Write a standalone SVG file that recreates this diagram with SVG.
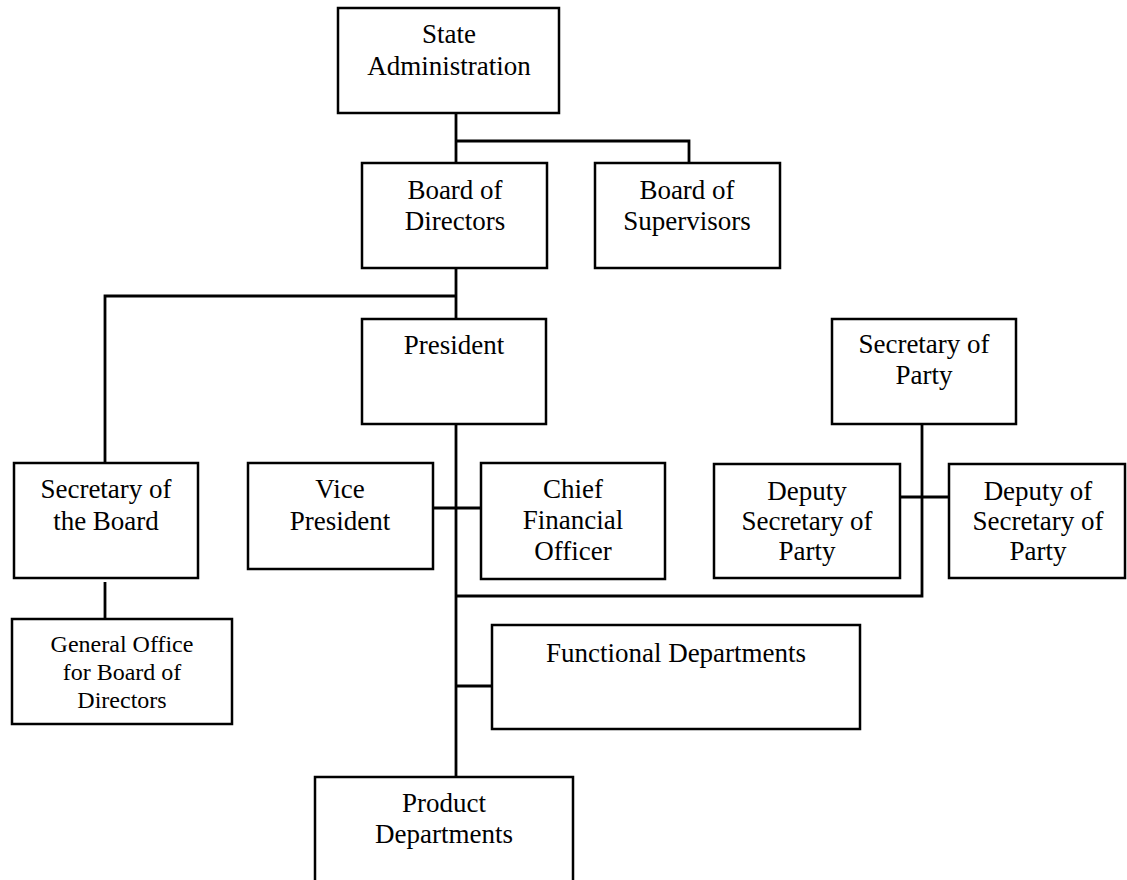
<svg xmlns="http://www.w3.org/2000/svg" width="1127" height="880" viewBox="0 0 1127 880">
  <style>
    .box { fill: #ffffff; stroke: #000000; stroke-width: 2.5; }
    .wire { fill: none; stroke: #000000; stroke-width: 2.8; stroke-linejoin: miter; }
    text { font-family: "Liberation Serif", "Times New Roman", serif; font-size: 27px; fill: #000000; text-anchor: middle; }
    .small { font-size: 24px; }
  </style>
  <rect width="1127" height="880" fill="#ffffff"/>

  <!-- connectors -->
  <g id="connectors">
    <path class="wire" d="M456,113 V163 M456,141 H689 V163"/>
    <path class="wire" d="M456,268 V319 M456,296 H105 V463"/>
    <path class="wire" d="M456,424 V777"/>
    <path class="wire" d="M433,508 H481"/>
    <path class="wire" d="M456,596 H922 V421"/>
    <path class="wire" d="M900,497 H949"/>
    <path class="wire" d="M105,582 V619"/>
    <path class="wire" d="M456,686 H492"/>
  </g>

  <g id="state-administration">
    <rect class="box" x="338" y="8" width="221" height="105"/>
    <text x="449" y="43">State</text>
    <text x="449" y="75">Administration</text>
  </g>

  <g id="board-of-directors">
    <rect class="box" x="362" y="163" width="185" height="105"/>
    <text x="455" y="199">Board of</text>
    <text x="455" y="230">Directors</text>
  </g>

  <g id="board-of-supervisors">
    <rect class="box" x="595" y="163" width="185" height="105"/>
    <text x="687" y="199">Board of</text>
    <text x="687" y="230">Supervisors</text>
  </g>

  <g id="president">
    <rect class="box" x="362" y="319" width="184" height="105"/>
    <text x="454" y="354">President</text>
  </g>

  <g id="secretary-of-party">
    <rect class="box" x="832" y="319" width="184" height="105"/>
    <text x="924" y="353">Secretary of</text>
    <text x="924" y="384">Party</text>
  </g>

  <g id="secretary-of-the-board">
    <rect class="box" x="14" y="463" width="184" height="115"/>
    <text x="106" y="498">Secretary of</text>
    <text x="106" y="530">the Board</text>
  </g>

  <g id="vice-president">
    <rect class="box" x="248" y="463" width="185" height="106"/>
    <text x="340" y="498">Vice</text>
    <text x="340" y="530">President</text>
  </g>

  <g id="chief-financial-officer">
    <rect class="box" x="481" y="463" width="184" height="116"/>
    <text x="573" y="498">Chief</text>
    <text x="573" y="529">Financial</text>
    <text x="573" y="560">Officer</text>
  </g>

  <g id="deputy-secretary-of-party">
    <rect class="box" x="714" y="464" width="186" height="114"/>
    <text x="807" y="500">Deputy</text>
    <text x="807" y="530">Secretary of</text>
    <text x="807" y="560">Party</text>
  </g>

  <g id="deputy-of-secretary-of-party">
    <rect class="box" x="949" y="464" width="176" height="114"/>
    <text x="1038" y="500">Deputy of</text>
    <text x="1038" y="530">Secretary of</text>
    <text x="1038" y="560">Party</text>
  </g>

  <g id="general-office">
    <rect class="box" x="12" y="619" width="220" height="105"/>
    <text class="small" x="122" y="652">General Office</text>
    <text class="small" x="122" y="680">for Board of</text>
    <text class="small" x="122" y="708">Directors</text>
  </g>

  <g id="functional-departments">
    <rect class="box" x="492" y="625" width="368" height="104"/>
    <text x="676" y="662">Functional Departments</text>
  </g>

  <g id="product-departments">
    <rect class="box" x="315" y="777" width="258" height="110"/>
    <text x="444" y="812">Product</text>
    <text x="444" y="843">Departments</text>
  </g>
</svg>
